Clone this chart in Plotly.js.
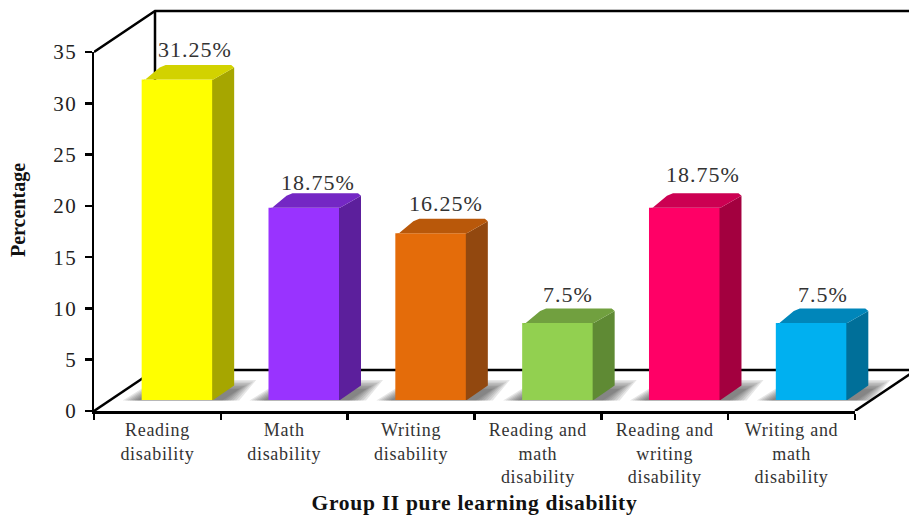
<!DOCTYPE html>
<html>
<head>
<meta charset="utf-8">
<script src="https://cdn.plot.ly/plotly-3.0.1.min.js"></script>
<style>
html,body{margin:0;padding:0;background:#fff;overflow:hidden}
.xtick text{letter-spacing:.7px}
.ytick text{letter-spacing:1.5px}
.annotation-text{letter-spacing:1px}
.xtitle{letter-spacing:.7px}
</style>
</head>
<body>
<div id="chart" style="width:909px;height:518px"></div>
<script>
// Group II learning disability shares, one 3-D styled column per subtype
const categories = ['Reading<br>disability','Math<br>disability','Writing<br>disability',
  'Reading and<br>math<br>disability','Reading and<br>writing<br>disability','Writing and<br>math<br>disability'];
const values = [31.25, 18.75, 16.25, 7.5, 18.75, 7.5];
const frontColors = ['#FFFF00','#9933FF','#E46C0A','#92D050','#FF0066','#00B0F0'];
const topColors   = ['#D2D200','#7427C4','#B9580A','#71A03F','#CC0052','#0086BA'];
const sideColors  = ['#A6A600','#5C1F9C','#92480F','#5F8A34','#A3003F','#006F99'];
const labelNudgeX = [18, 14, 15, 10, 18, 11];
const labelNudgeY = [30, 25, 30, 29, 33, 29];

// Canvas box and scale of the value/category axes, in pixels
const W = 909, H = 518, L = 94, FLOOR = 411, TOP_PAD = 9;
const UX = 126.83, UY = 10.257;
const px = d => d / UX, py = d => d / UY;

// Depth of the room and placement of a column inside it
const roomDx = px(61), roomDy = py(41);
const colDx = px(21), colDy = py(14.5);
const colBase = py(11), colShift = px(20), colW = px(71.5);
const bevelX = px(3), bevelY = py(2.5);
const overlap = px(1);

const polyPath = pts => 'M' + pts.map(p => p[0] + ',' + p[1]).join('L') + 'Z';
const linePath = pts => 'M' + pts.map(p => p[0] + ',' + p[1]).join('L');

const centers = values.map((_, i) => i + 0.5 + colShift);
const fullX = (W - L) / UX, fullY = (FLOOR - TOP_PAD) / UY;

// Room edges: left wall, floor edge, back wall
const frame = [
  [[0, 35], [roomDx, 35 + roomDy], [fullX + 1, 35 + roomDy]],
  [[roomDx, 35 + roomDy], [roomDx, roomDy], [fullX + 1, roomDy]],
  [[0, 0], [roomDx, roomDy]],
  [[6, 0], [6 + roomDx, roomDy]]
].map(pts => ({type: 'path', xref: 'x2', yref: 'y2', layer: 'below', path: linePath(pts),
  line: {color: '#000', width: 2.5}}));

// Floor shadows: nested translucent parallelograms give a soft edge
const shadows = [];
centers.forEach(c => {
  const x0 = c - colW / 2, x1 = c + colW / 2;
  const bot = colBase - py(0.5);
  for (let k = 0; k < 7; k++) {
    const top = colBase + py(20 - k * 1.5);
    shadows.push({type: 'path', xref: 'x2', yref: 'y2', layer: 'below',
      path: polyPath([
        [x0 - px(19 - k * 2.4), bot], [x1 + px(26 - k * 2.8), bot],
        [x1 + px(43 - k * 2.8), top], [x0 + px(14), top]
      ]),
      fillcolor: 'rgba(60,60,60,0.13)', line: {width: 0}});
  }
});

// Front faces come straight from the values
const fronts = {
  type: 'bar', xaxis: 'x2', yaxis: 'y2',
  x: centers, y: values, base: colBase, width: colW,
  marker: {color: frontColors, line: {width: 0}},
  hoverinfo: 'skip'
};

// Top and side faces follow each value's height, with small bevels on their corners
const faces = [];
values.forEach((v, i) => {
  const x0 = centers[i] - colW / 2, x1 = centers[i] + colW / 2, t = colBase + v;
  faces.push({type: 'scatter', xaxis: 'x2', yaxis: 'y2', mode: 'lines', fill: 'toself',
    x: [x1 - overlap, x1, x1 + colDx, x1 + colDx, x1, x1 - overlap, x1 - overlap],
    y: [colBase, colBase, colBase + colDy, t + colDy - bevelY, t, t, colBase],
    fillcolor: sideColors[i], line: {width: 0}, hoverinfo: 'skip'});
  faces.push({type: 'scatter', xaxis: 'x2', yaxis: 'y2', mode: 'lines', fill: 'toself',
    x: [x0, x0 + bevelX, x0 + colDx - bevelX, x0 + colDx + bevelX, x1 + colDx - bevelX, x1 + colDx, x1, x1 - bevelX, x0 + bevelX, x0],
    y: [t - bevelY, t - py(0.5), t + colDy - bevelY, t + colDy, t + colDy, t + colDy - bevelY, t, t, t, t - bevelY],
    fillcolor: topColors[i], line: {width: 0}, hoverinfo: 'skip'});
});

// Carries the visible category and percentage axes
const axisCarrier = {type: 'scatter', x: categories, y: values, mode: 'markers',
  marker: {opacity: 0}, hoverinfo: 'skip'};

const labels = values.map((v, i) => ({
  xref: 'x2', yref: 'y2', x: centers[i], y: colBase + v,
  text: v + '%', showarrow: false, xanchor: 'center', yanchor: 'middle',
  xshift: labelNudgeX[i], yshift: labelNudgeY[i],
  font: {family: 'Liberation Serif', size: 22, color: '#333'}
}));

const layout = {
  width: W, height: H, showlegend: false,
  paper_bgcolor: '#fff', plot_bgcolor: 'rgba(0,0,0,0)',
  margin: {l: L, r: 0, t: 0, b: H - FLOOR},
  xaxis: {
    type: 'category', domain: [0, 6 * UX / (W - L)], range: [-0.5, 5.5],
    categoryorder: 'array', categoryarray: categories, tickson: 'boundaries',
    showgrid: false, zeroline: false, showline: true, linecolor: '#000', linewidth: 2.5,
    ticks: 'outside', ticklen: 6, tickwidth: 2.5, tickcolor: '#000', tickangle: 0, ticklabelstandoff: 1,
    tickfont: {family: 'Liberation Serif', size: 18, color: '#333'},
    title: {text: '<b>Group II pure learning disability</b>', standoff: 9,
      font: {family: 'Liberation Serif', size: 21.5, color: '#111'}}
  },
  yaxis: {
    domain: [0, 35 * UY / FLOOR], range: [0, 35], tick0: 0, dtick: 5,
    showgrid: false, zeroline: false, showline: true, linecolor: '#000', linewidth: 2.5,
    ticks: 'outside', ticklen: 7, tickwidth: 2.5, tickcolor: '#000', ticklabelstandoff: 3,
    tickfont: {family: 'Liberation Serif', size: 21, color: '#222'}
  },
  xaxis2: {domain: [0, 1], range: [0, fullX], visible: false, anchor: 'y2'},
  yaxis2: {domain: [0, fullY * UY / FLOOR], range: [0, fullY], anchor: 'x2',
    showgrid: false, zeroline: false, showline: false, showticklabels: false, ticks: '',
    title: {text: '<b>Percentage</b>', standoff: 62,
      font: {family: 'Liberation Serif', size: 20, color: '#111'}}},
  barmode: 'overlay',
  shapes: shadows.concat(frame),
  annotations: labels
};

Plotly.newPlot('chart', [axisCarrier, fronts].concat(faces), layout, {displayModeBar: false, staticPlot: true});
</script>
</body>
</html>
